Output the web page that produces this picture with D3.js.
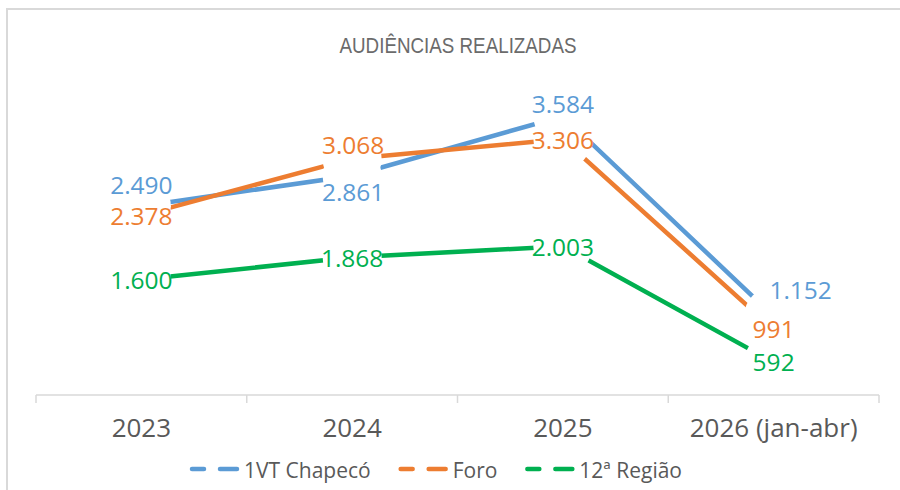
<!DOCTYPE html>
<html>
<head>
<meta charset="utf-8">
<script src="https://cdn.jsdelivr.net/npm/d3@7"></script>
<style>
  html, body { margin: 0; padding: 0; background: #fff; }
  svg { display: block; }
</style>
</head>
<body>
<div id="chart"></div>
<script>
// data
var categories = ["2023", "2024", "2025", "2026 (jan-abr)"];
var seriesNames = ["1VT Chapecó", "Foro", "12ª Região"];
var vt = [2490, 2861, 3584, 1152];
var foro = [2378, 3068, 3306, 991];
var regiao = [1600, 1868, 2003, 592];

var colors = ["#5B9BD5", "#ED7D31", "#00B050"];
// label offsets (px) from each point, per series
var labelOffsets = [
    [[0, -21], [1, 17], [0, -12], [27, -26]],
    [[0, 1], [1, -13], [0, 1], [0, 0]],
    [[0, 1], [0, 1], [0, 1], [0, 0]]
];

var series = [vt, foro, regiao].map(function (vals, i) {
    return { name: seriesNames[i], values: vals, color: colors[i], offs: labelOffsets[i] };
});

var W = 900, H = 490;
var svg = d3.select("#chart").append("svg")
    .attr("width", W)
    .attr("height", H);

// chart border
svg.append("rect")
    .attr("x", 7).attr("y", 9)
    .attr("width", 1000).attr("height", 1000)
    .attr("fill", "none")
    .attr("stroke", "#D9D9D9")
    .attr("stroke-width", 2);

// title (condensed look)
svg.append("text")
    .attr("x", 458).attr("y", 53)
    .attr("text-anchor", "middle")
    .attr("textLength", 237)
    .attr("lengthAdjust", "spacingAndGlyphs")
    .style("font-family", "'Liberation Sans', sans-serif")
    .style("font-size", "22.5px")
    .style("fill", "#6b6b6b")
    .text("AUDIÊNCIAS REALIZADAS");

var x = d3.scaleBand()
    .domain(categories)
    .range([36, 879])
    .padding(0);

var y = d3.scaleLinear()
    .domain([0, 4000])
    .range([411, 82]);

var fmt = d3.formatLocale({ decimal: ",", thousands: ".", grouping: [3], currency: ["R$", ""] }).format(",d");

function cx(i) { return x(categories[i]) + x.bandwidth() / 2; }

// x axis
var axisY = 395;
svg.append("line")
    .attr("x1", x.range()[0]).attr("x2", x.range()[1])
    .attr("y1", axisY).attr("y2", axisY)
    .attr("stroke", "#D9D9D9").attr("stroke-width", 1.5);

var bounds = categories.map(function (c) { return x(c); }).concat([x.range()[1]]);
svg.append("g").selectAll("line")
    .data(bounds)
    .enter().append("line")
    .attr("x1", function (d) { return d; })
    .attr("x2", function (d) { return d; })
    .attr("y1", axisY).attr("y2", axisY + 8)
    .attr("stroke", "#D9D9D9").attr("stroke-width", 1.5);

svg.append("g").selectAll("text")
    .data(categories)
    .enter().append("text")
    .attr("x", function (d) { return x(d) + x.bandwidth() / 2; })
    .attr("y", 437)
    .attr("text-anchor", "middle")
    .style("font-family", "'Open Sans', sans-serif")
    .style("font-size", "26px")
    .style("fill", "#595959")
    .text(function (d) { return d; });

// lines
var line = d3.line()
    .x(function (d, i) { return cx(i); })
    .y(function (d) { return y(d); });

svg.append("g").selectAll("path")
    .data(series)
    .enter().append("path")
    .attr("d", function (s) { return line(s.values); })
    .attr("fill", "none")
    .attr("stroke", function (s) { return s.color; })
    .attr("stroke-width", 4.5);

// white markers that open a gap around every point
series.forEach(function (s) {
    svg.append("g").selectAll("circle")
        .data(s.values)
        .enter().append("circle")
        .attr("cx", function (d, i) { return cx(i); })
        .attr("cy", function (d) { return y(d); })
        .attr("r", 29.5)
        .attr("fill", "#fff");
});

// data labels
var labelSize = 24.5;
series.forEach(function (s) {
    svg.append("g").selectAll("text")
        .data(s.values)
        .enter().append("text")
        .attr("x", function (d, i) { return cx(i) + s.offs[i][0]; })
        .attr("y", function (d, i) { return y(d) + s.offs[i][1] + labelSize * 0.357; })
        .attr("text-anchor", "middle")
        .style("font-family", "'Open Sans', sans-serif")
        .style("font-size", labelSize + "px")
        .style("fill", s.color)
        .text(function (d) { return fmt(d); });
});

// legend
var legend = svg.append("g");
var lx = 190, ly = 469;
series.forEach(function (s) {
    legend.append("line")
        .attr("x1", lx + 2).attr("x2", lx + 47)
        .attr("y1", ly).attr("y2", ly)
        .attr("stroke", s.color)
        .attr("stroke-width", 4.5)
        .attr("stroke-linecap", "round")
        .attr("stroke-dasharray", "12,16,17");
    var t = legend.append("text")
        .attr("x", lx + 54).attr("y", 478)
        .style("font-family", "'Open Sans', sans-serif")
        .style("font-size", "21px")
        .style("fill", "#595959")
        .text(s.name);
    lx = lx + 54 + t.node().getComputedTextLength() + 28;
});
</script>
</body>
</html>
